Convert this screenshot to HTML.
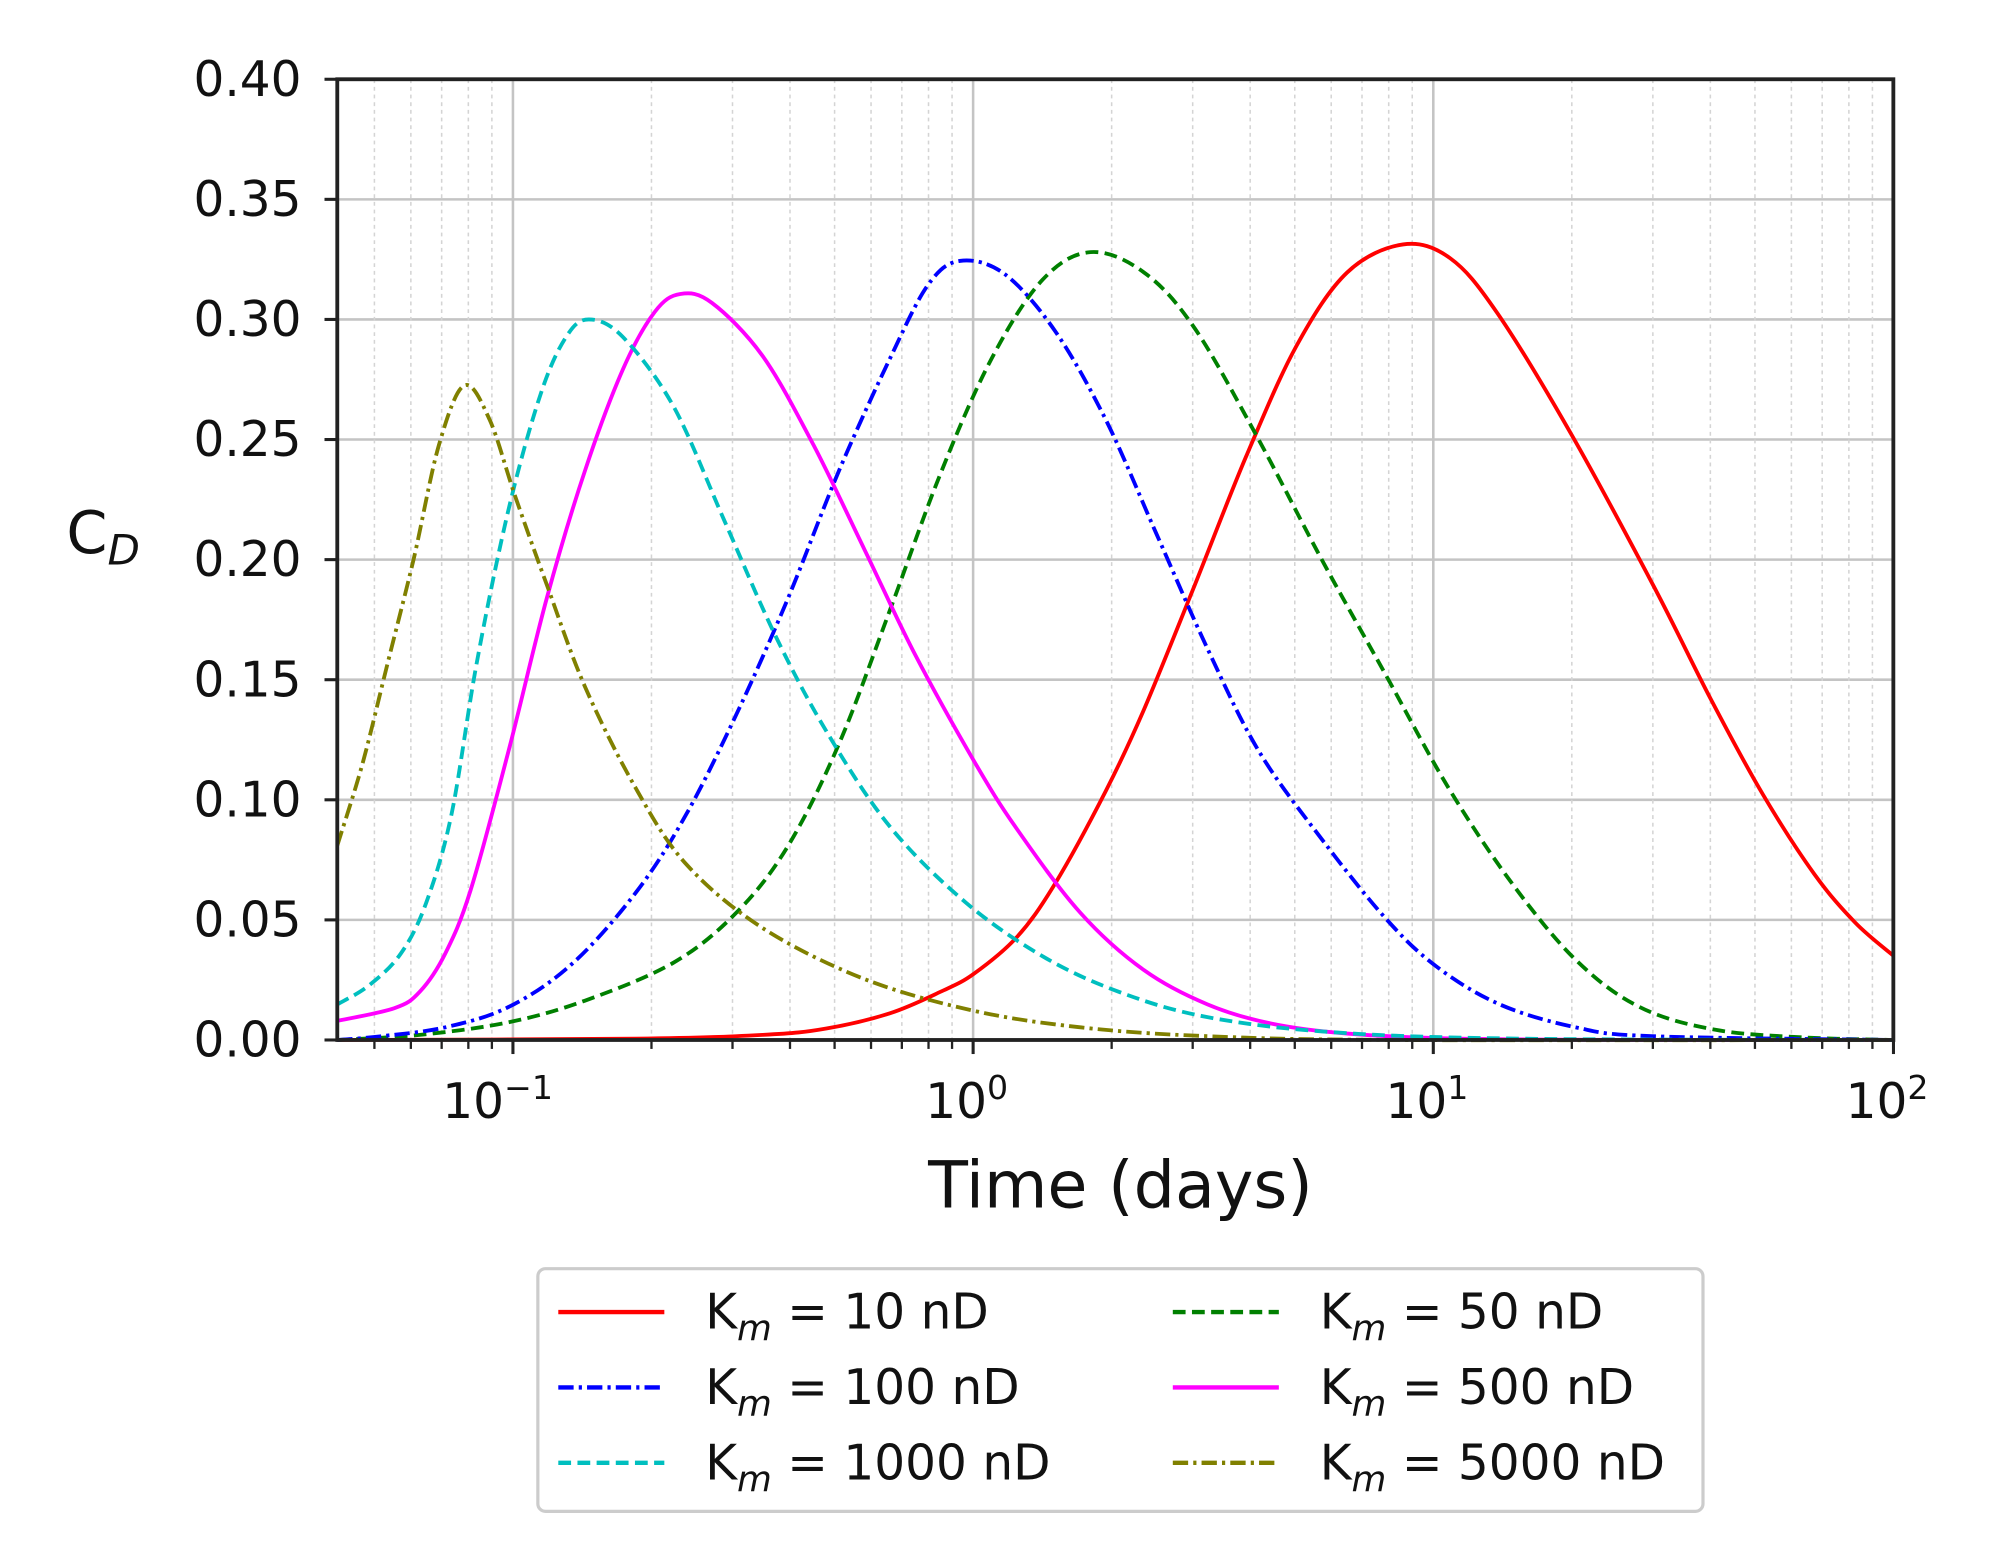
<!DOCTYPE html>
<html><head><meta charset="utf-8">
<style>html,body{margin:0;padding:0;background:#fff;}svg{display:block;}
text{font-family:"DejaVu Sans","Liberation Sans",sans-serif;fill:#111;}</style></head>
<body>
<svg id="s" width="1993" height="1560" viewBox="0 0 1560 1221" xmlns="http://www.w3.org/2000/svg">
<rect width="1560" height="1221" fill="#fff"/>
<g id="grid"></g>
<g id="curves" fill="none" stroke-width="3"></g>
<rect x="264" y="62" width="1218" height="752" fill="none" stroke="#222" stroke-width="3"/>
<g id="ticks" stroke="#222" stroke-width="2.4"></g>
<g id="labels" font-size="38"></g>
<text x="52" y="433" font-size="46">C<tspan font-style="italic" font-size="33" dy="9">D</tspan></text>
<text x="877" y="945" font-size="51" text-anchor="middle">Time (days)</text>
<rect x="421" y="993" width="912" height="190" rx="6" fill="#fff" stroke="#cccccc" stroke-width="2.5"/>
<g id="legend" font-size="38"></g>
</svg>
<script>
var NS="http://www.w3.org/2000/svg";
function el(p,t,a,txt){var e=document.createElementNS(NS,t);for(var k in a)e.setAttribute(k,a[k]);if(txt!=null)e.textContent=txt;document.getElementById(p).appendChild(e);return e;}
var L=264,R=1482,T=62,B=814,X0=401.5,DW=360.2,ST=94;
function xs(t){return X0+DW*(Math.log10(t)+1);}
for(var i=1;i<8;i++){var y=B-i*ST;el("grid","line",{x1:L,x2:R,y1:y,y2:y,stroke:"#c4c4c4","stroke-width":2});}
for(var d=-2;d<=1;d++){for(var m=2;m<=9;m++){var x=xs(m*Math.pow(10,d));if(x<=L||x>=R)continue;
el("grid","line",{x1:x,x2:x,y1:T,y2:B,stroke:"#d4d4d4","stroke-width":1.2,"stroke-dasharray":"3,3"});
el("ticks","line",{x1:x,x2:x,y1:B,y2:B+7,"stroke-width":1.8});}}
for(var d=-1;d<=2;d++){var x=xs(Math.pow(10,d));if(d<2)el("grid","line",{x1:x,x2:x,y1:T,y2:B,stroke:"#c4c4c4","stroke-width":2});
el("ticks","line",{x1:x,x2:x,y1:B,y2:B+11});
var tx=el("labels","text",{x:x-12,y:875,"text-anchor":"middle"},"10");
var sp=document.createElementNS(NS,"tspan");sp.setAttribute("font-size","26");sp.setAttribute("dy","-15");sp.textContent=(d<0?"\u2212":"")+Math.abs(d);tx.appendChild(sp);
if(d>=0)tx.setAttribute("x",x-5);}
for(var i=0;i<=8;i++){var y=B-i*ST;el("ticks","line",{x1:L-10,x2:L,y1:y,y2:y});
el("labels","text",{x:236,y:y+13,"text-anchor":"end"},(i*0.05).toFixed(2));}
function path(p){var s="M"+p[0][0]+","+p[0][1];for(var i=0;i<p.length-1;i++){var p0=p[Math.max(0,i-1)],p1=p[i],p2=p[i+1],p3=p[Math.min(p.length-1,i+2)];
var c1=[p1[0]+(p2[0]-p0[0])/6,p1[1]+(p2[1]-p0[1])/6],c2=[p2[0]-(p3[0]-p1[0])/6,p2[1]-(p3[1]-p1[1])/6];
s+=" C"+c1[0].toFixed(1)+","+c1[1].toFixed(1)+" "+c2[0].toFixed(1)+","+c2[1].toFixed(1)+" "+p2[0].toFixed(1)+","+p2[1].toFixed(1);}return s;}
function tr(p){return p.map(function(q){return [264+(q[0]-265)*0.9943,62+(q[1]-62)*(752/756)];});}
var DASH="10,5",DD="12,4,2.5,4";
var S=[
["#ff0000","",tr([[265,818],[500,817],[600,814],[650,809],[700,797],[740,780],[766,766],[800,737],[830,695],[870,622],[900,558],[940,460],[980,360],[1020,272],[1060,214],[1104,192]]).concat([[1135,202],[1172,245],[1230,340],[1294,458],[1339,547],[1380,622],[1420,684],[1452,722],[1482,748]])],
["#008000",DASH,tr([[265,818],[330,814],[400,804],[460,787],[530,757],[580,717],[620,665],[660,585],[700,480],[740,372],[780,282],[820,220],[858,198],[900,214],[940,258],[990,345],[1040,440],[1090,530],[1140,620],[1190,695],[1240,755],[1290,792],[1350,810],[1420,816],[1490,818]])],
["#0000ff",DD,tr([[265,818],[300,815],[350,808],[400,792],[450,758],[500,702],[540,640],[580,560],[620,470],[660,370],[700,282],[730,224],[755,205],[790,215],[830,260],[870,330],[910,420],[950,510],[990,590],[1040,660],[1090,722],[1130,760],[1180,790],[1240,808],[1300,815],[1490,818]])],
["#ff00ff","",tr([[265,803],[310,793],[330,780],[350,750],[370,700],[400,590],[430,470],[460,370],[490,290],[515,245],[535,231],[560,238],[600,280],[640,350],[680,432],[720,515],[766,598],[800,652],[850,718],[900,763],[950,790],[1000,805],[1060,813],[1150,817],[1300,818],[1490,818]])],
["#00bfbf",DASH,tr([[265,790],[290,775],[315,750],[335,710],[355,640],[375,520],[400,400],[425,310],[445,265],[463,251],[490,265],[530,320],[570,410],[610,500],[650,575],[700,650],[760,710],[820,752],[880,780],[950,800],[1050,812],[1200,817],[1490,818]])],
["#808000",DD,tr([[265,665],[285,600],[305,520],[325,440],[345,350],[365,303],[385,330],[405,390],[430,460],[460,540],[500,620],[540,680],[600,730],[680,770],[766,795],[850,808],[950,815],[1100,818],[1490,818]])]];
S.forEach(function(s){var a={d:path(s[2]),stroke:s[0]};if(s[1])a["stroke-dasharray"]=s[1];el("curves","path",a);});
var LG=[["#ff0000","","10",437,1027],["#008000",DASH,"50",918,1027],["#0000ff",DD,"100",437,1086],["#ff00ff","","500",918,1086],["#00bfbf",DASH,"1000",437,1145],["#808000",DD,"5000",918,1145]];
LG.forEach(function(l){var a={x1:l[3],x2:l[3]+83,y1:l[4],y2:l[4],stroke:l[0],"stroke-width":3.4};if(l[1])a["stroke-dasharray"]=l[1];el("legend","line",a);
var t=el("legend","text",{x:l[3]+115,y:l[4]+13},"K");var sp=document.createElementNS(NS,"tspan");sp.setAttribute("font-style","italic");sp.setAttribute("font-size","28");sp.setAttribute("dy","9");sp.textContent="m";t.appendChild(sp);
var sp2=document.createElementNS(NS,"tspan");sp2.setAttribute("dy","-9");sp2.textContent=" = "+l[2]+" nD";t.appendChild(sp2);});
</script>
</body></html>
